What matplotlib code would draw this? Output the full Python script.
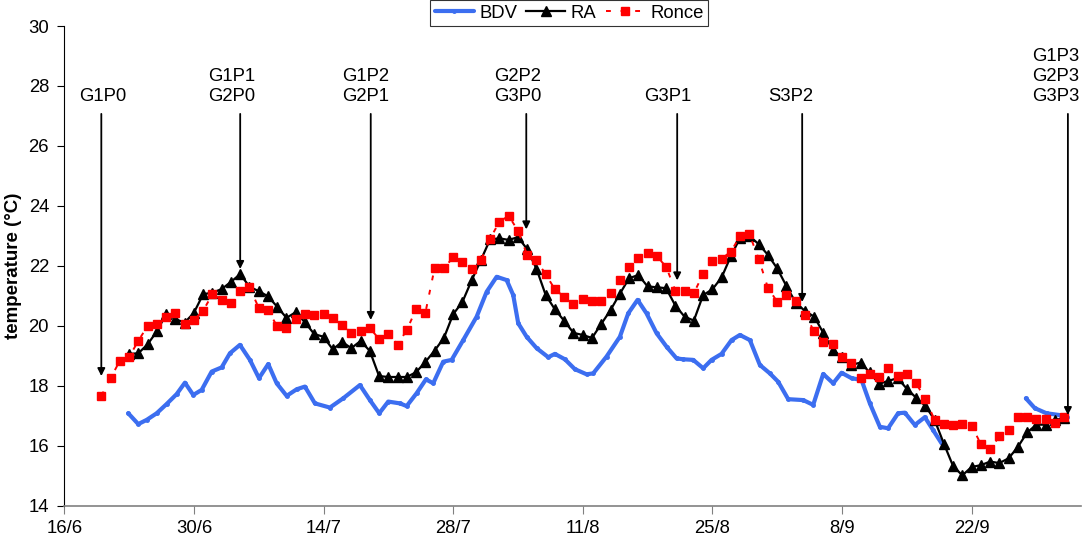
import numpy as np
import matplotlib
matplotlib.use("Agg")
import matplotlib.pyplot as plt

plt.rcParams['font.family'] = ['Liberation Sans', 'DejaVu Sans']

# axe x : jours depuis le 16/6
tick_days = [0, 14, 28, 42, 56, 70, 84, 98]
tick_labels = ['16/6', '30/6', '14/7', '28/7', '11/8', '25/8', '8/9', '22/9']

# BDV (courbe continue)
bdv_day = [6.91, 7.99, 8.90, 9.98, 11.06, 12.14, 13.03, 13.93, 14.84, 15.92,
           17.00, 17.89, 18.97, 20.05, 21.03, 22.03, 22.94, 24.02, 25.10, 25.99,
           27.07, 28.69, 30.13, 31.93, 33.01, 34.02, 34.99, 36.25, 36.98, 38.06,
           39.06, 39.85, 40.93, 41.84, 43.09, 44.54, 45.62, 46.70, 47.78, 48.49,
           49.03, 49.94, 51.02, 52.27, 52.99, 54.07, 55.15, 56.41, 57.13, 58.57,
           60.01, 60.91, 61.92, 62.89, 63.97, 65.05, 66.13, 66.85, 67.93, 69.01,
           69.91, 70.99, 72.07, 72.97, 74.05, 75.13, 76.21, 77.11, 78.19, 79.81,
           80.89, 81.97, 83.05, 83.95, 85.03, 86.11, 87.01, 88.09, 88.98, 90.06,
           90.79, 91.87, 92.95, 93.84, 94.75, 99.0,
           103.86, 104.83, 106.09, 107.52, 108.25]
bdv_temp = [17.09, 16.73, 16.87, 17.09, 17.40, 17.73, 18.11, 17.70, 17.87, 18.48,
            18.62, 19.09, 19.37, 18.87, 18.26, 18.73, 18.09, 17.67, 17.89, 17.98,
            17.42, 17.28, 17.59, 18.03, 17.53, 17.09, 17.48, 17.42, 17.33, 17.76,
            18.22, 18.09, 18.81, 18.87, 19.53, 20.31, 21.14, 21.64, 21.53, 21.03,
            20.09, 19.64, 19.26, 18.96, 19.07, 18.89, 18.56, 18.39, 18.42, 18.98,
            19.64, 20.42, 20.87, 20.42, 19.76, 19.31, 18.92, 18.89, 18.87, 18.59,
            18.87, 19.07, 19.53, 19.70, 19.53, 18.70, 18.42, 18.14, 17.56, 17.53,
            17.37, 18.40, 18.09, 18.44, 18.26, 18.20, 17.42, 16.64, 16.59, 17.09,
            17.11, 16.70, 16.96, 16.53, 16.09, np.nan,
            17.59, 17.26, 17.09, 17.03, 16.98]

# RA : une valeur par jour a partir du 23/6 (jour 7)
ra_first_day = 7
ra_temp = [19.07, 19.09, 19.39, 19.82, 20.40, 20.23, 20.11, 20.44, 21.06, 21.11,
           21.23, 21.47, 21.73, 21.31, 21.16, 20.99, 20.64, 20.27, 20.46, 20.12,
           19.73, 19.64, 19.22, 19.47, 19.26, 19.50, 19.17, 18.33, 18.30, 18.30,
           18.30, 18.46, 18.80, 19.18, 19.60, 20.39, 20.80, 21.52, 22.20, 22.89,
           22.92, 22.87, 22.96, 22.56, 21.91, 21.03, 20.55, 20.17, 19.77, 19.70,
           19.60, 20.07, 20.53, 21.07, 21.59, 21.70, 21.32, 21.29, 21.26, 20.68,
           20.31, 20.18, 21.03, 21.22, 21.62, 22.33, 22.94, 23.00, 22.73, 22.37,
           21.92, 21.33, 20.78, 20.50, 20.31, 19.76, 19.20, 18.96, 18.70, 18.78,
           18.45, 18.07, 18.17, 18.26, 17.91, 17.61, 17.34, 16.87, 16.08, 15.33,
           15.02, 15.30, 15.36, 15.48, 15.43, 15.59, 15.97, 16.45, 16.71, 16.71,
           16.87, 16.92]

# Ronce : une valeur par jour a partir du 20/6 (jour 4)
ronce_first_day = 4
ronce_temp = [17.67, 18.26, 18.84, 18.96, 19.51, 20.00, 20.07, 20.29, 20.44, 20.07,
              20.20, 20.51, 21.06, 20.88, 20.76, 21.18, 21.29, 20.61, 20.52, 19.99,
              19.94, 20.23, 20.40, 20.36, 20.41, 20.26, 20.03, 19.78, 19.83, 19.93,
              19.57, 19.72, 19.38, 19.87, 20.56, 20.44, 21.93, 21.92, 22.29, 22.14,
              21.89, 22.20, 22.91, 23.48, 23.67, 23.18, 22.36, 22.19, 21.72, 21.22,
              20.97, 20.72, 20.89, 20.83, 20.83, 21.10, 21.52, 21.96, 22.27, 22.42,
              22.32, 21.98, 21.18, 21.18, 21.10, 21.73, 22.17, 22.24, 22.48, 23.00,
              23.06, 22.24, 21.27, 20.81, 21.02, 20.83, 20.38, 19.82, 19.47, 19.41,
              18.96, 18.78, 18.28, 18.41, 18.31, 18.61, 18.34, 18.40, 18.09, 17.57,
              16.87, 16.74, 16.69, 16.74, 16.68, 16.06, 15.90, 16.32, 16.54, 16.96,
              16.98, 16.90, 16.91, 16.78, 16.97]

# evenements (fleches)
event_labels = ['G1P0', 'G1P1\nG2P0', 'G1P2\nG2P1', 'G2P2\nG3P0', 'G3P1', 'S3P2',
                'G1P3\nG2P3\nG3P3']
event_day = [4.0, 19.0, 33.1, 49.9, 66.2, 79.7, 108.4]
event_tip = [18.33, 21.9, 20.2, 23.22, 21.52, 20.8, 17.03]
event_text_day = [4.2, 18.1, 32.6, 49.0, 65.2, 78.5, 107.1]

ra_day = np.arange(len(ra_temp)) + ra_first_day
ronce_day = np.arange(len(ronce_temp)) + ronce_first_day

fig = plt.figure(figsize=(10.84, 5.44), dpi=100)
ax = fig.add_axes([0.0593, 0.0699, 0.9378, 0.8823])

l1, = ax.plot(bdv_day, bdv_temp, color='#3c6ef0', lw=3.0, marker='o', ms=2.5,
              solid_capstyle='round', label='BDV')
l2, = ax.plot(ra_day, ra_temp, color='black', lw=1.6, marker='^', ms=7,
              label='RA')
l3, = ax.plot(ronce_day, ronce_temp, color='#ff0000', lw=1.4, ls=(0, (2.5, 5)),
              marker='s', ms=6, mec='#ff0000', label='Ronce')

fs = 13.3
for lab, d, tip, td in zip(event_labels, event_day, event_tip, event_text_day):
    ax.annotate('', xy=(d, tip), xytext=(d, 27.07),
                arrowprops=dict(arrowstyle='-|>', color='black', lw=1.3,
                                mutation_scale=11, shrinkA=0, shrinkB=0))
    ax.text(td, 27.38, lab, ha='center', va='bottom', fontsize=fs,
            linespacing=1.22)

ax.set_xlim(0, 109.8)
ax.set_ylim(14, 30)
ax.set_yticks(range(14, 31, 2))
ax.set_xticks(tick_days)
ax.set_xticklabels(tick_labels)
ax.tick_params(axis='y', labelsize=fs, length=5, pad=6)
ax.tick_params(axis='x', labelsize=fs, length=6, pad=4, color='#808080')
ax.spines['top'].set_visible(False)
ax.spines['right'].set_visible(False)
ax.spines['bottom'].set_color('#808080')
ax.spines['bottom'].set_linewidth(1.2)
ax.set_ylabel('temperature (°C)', fontsize=13.5, fontweight='bold')
ax.yaxis.set_label_coords(-0.042, 0.5)

leg = fig.legend([l1, l2, l3], ['BDV', 'RA', 'Ronce'], loc='upper center',
                 bbox_to_anchor=(0.525, 1.0), ncol=3, fontsize=fs,
                 frameon=True, fancybox=False, edgecolor='black',
                 borderpad=0.25, handlelength=2.1, handletextpad=0.3,
                 columnspacing=0.5, borderaxespad=0)
leg.get_frame().set_linewidth(0.8)

fig.savefig('out.png', dpi=100)
